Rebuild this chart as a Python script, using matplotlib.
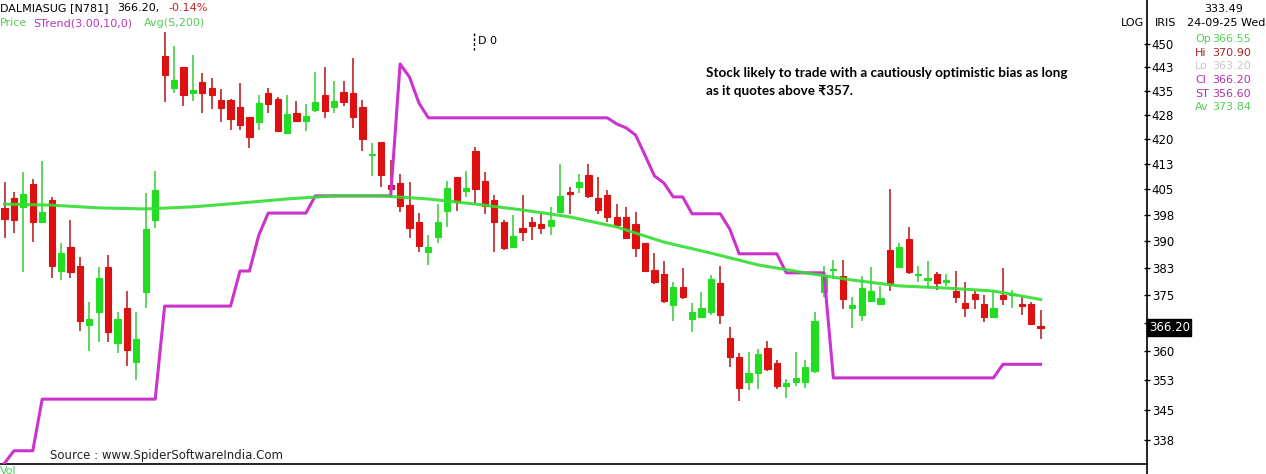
import matplotlib.pyplot as plt
from matplotlib.lines import Line2D
from matplotlib.ticker import NullLocator

# daily candles, oldest first (DALMIASUG)
opens = [399.6, 402.5, 399.9, 406.6, 395.3, 401.9, 381.7, 388.2, 383.1, 366.8,
         370.3, 382.6, 362.1, 371.6, 357.1, 375.7, 396.1, 446.1, 435.8, 442.6,
         434.3, 437.8, 435.8, 432.1, 432.1, 429.9, 426.8, 425.3, 434.3, 432.4,
         421.9, 428.1, 425.6, 429.0, 433.6, 429.9, 434.6, 434.3, 429.9, 415.2,
         419.2, 406.3, 406.9, 400.4, 395.5, 387.0, 391.2, 398.7, 408.6, 404.5,
         416.4, 407.5, 401.9, 395.5, 388.4, 393.6, 395.5, 394.9, 394.4, 398.4,
         404.2, 405.7, 409.3, 402.5, 403.3, 397.0, 397.0, 394.9, 389.5, 382.0,
         380.9, 372.2, 377.1, 368.4, 369.0, 370.5, 378.2, 363.4, 358.4, 352.0,
         354.3, 360.8, 356.9, 351.0, 352.0, 352.0, 354.8, 375.7, 381.9, 380.1,
         371.6, 369.5, 373.5, 372.7, 387.6, 382.6, 390.7, 380.4, 379.0, 380.7,
         378.7, 376.2, 372.9, 375.4, 372.7, 369.2, 375.1, 375.0, 372.7, 372.7,
         366.55]
highs = [407.2, 404.2, 410.1, 408.1, 413.4, 402.8, 389.5, 396.1, 385.6, 373.2,
         382.6, 386.2, 370.3, 376.2, 370.3, 403.9, 410.4, 453.9, 449.3, 442.6,
         446.4, 440.7, 439.1, 435.5, 432.4, 437.5, 426.8, 433.6, 435.8, 433.0,
         433.6, 431.8, 430.9, 441.0, 442.6, 438.1, 438.1, 445.4, 432.1, 418.9,
         419.2, 413.7, 409.5, 407.2, 398.1, 391.8, 400.7, 407.5, 408.6, 410.4,
         417.6, 410.1, 403.3, 396.0, 397.5, 403.3, 397.0, 398.1, 399.9, 412.5,
         405.7, 409.5, 412.5, 408.6, 404.8, 400.7, 399.9, 398.4, 389.5, 386.5,
         384.5, 378.5, 382.3, 372.9, 375.7, 380.4, 382.9, 366.3, 359.5, 359.8,
         360.5, 362.8, 357.6, 352.8, 359.8, 357.6, 370.5, 383.1, 384.8, 384.8,
         374.6, 380.1, 382.6, 377.6, 405.1, 389.5, 394.1, 383.1, 384.5, 381.2,
         380.9, 381.5, 378.5, 376.0, 374.9, 375.7, 382.3, 376.5, 374.6, 373.0,
         370.90]
lows = [391.0, 392.4, 381.2, 389.6, 395.0, 379.8, 379.0, 379.8, 365.3, 360.0,
        362.3, 362.3, 359.5, 356.1, 352.5, 371.4, 393.6, 431.5, 434.3, 430.2,
        431.8, 428.1, 429.3, 425.3, 422.8, 422.8, 417.3, 422.8, 428.1, 422.2,
        421.6, 425.3, 422.5, 428.4, 426.5, 428.1, 430.2, 423.4, 416.4, 409.0,
        405.7, 402.7, 398.4, 391.0, 386.8, 383.4, 389.5, 393.9, 398.7, 402.8,
        401.0, 397.8, 386.8, 387.5, 387.9, 390.1, 390.4, 392.1, 391.8, 398.2,
        397.8, 403.9, 402.5, 397.8, 395.3, 393.6, 390.7, 385.6, 381.2, 377.9,
        372.9, 367.9, 374.0, 365.0, 368.7, 369.5, 367.3, 355.8, 347.2, 350.0,
        350.2, 355.0, 350.2, 348.0, 351.0, 350.5, 354.3, 374.6, 379.3, 371.1,
        366.0, 367.9, 373.2, 372.4, 376.0, 382.3, 380.7, 378.7, 376.8, 376.5,
        377.6, 372.9, 369.2, 371.1, 367.6, 369.0, 372.2, 371.6, 369.7, 366.8,
        363.20]
closes = [396.4, 396.1, 403.6, 395.3, 398.4, 383.1, 386.5, 381.2, 367.9, 368.4,
          379.8, 365.0, 368.4, 360.3, 363.1, 393.3, 404.8, 440.0, 438.4, 433.6,
          435.2, 434.3, 433.6, 429.6, 426.2, 424.4, 420.7, 431.2, 430.9, 422.5,
          427.8, 425.6, 427.1, 431.5, 428.7, 431.8, 431.5, 426.8, 420.1, 415.5,
          409.3, 405.1, 400.1, 393.6, 388.7, 388.2, 395.5, 405.4, 401.3, 405.4,
          405.1, 400.1, 395.3, 387.9, 391.5, 392.7, 394.4, 393.6, 396.1, 403.1,
          403.6, 407.2, 403.1, 399.0, 397.0, 394.7, 391.0, 387.9, 381.7, 378.7,
          373.5, 377.1, 374.6, 370.3, 371.6, 379.3, 369.5, 358.4, 350.5, 354.3,
          359.2, 355.3, 351.0, 351.8, 353.0, 355.8, 368.1, 380.1, 382.1, 374.0,
          372.2, 376.8, 376.0, 374.3, 377.9, 388.4, 381.2, 380.9, 379.6, 378.2,
          379.0, 374.6, 371.4, 374.0, 369.2, 371.6, 374.0, 375.2, 371.9, 367.1,
          366.20]

# SuperTrend(3,10) value on every bar
supertrend = [331.9, 334.9, 334.9, 334.9, 347.7, 347.7, 347.7, 347.7, 347.7, 347.7,
              347.7, 347.7, 347.7, 347.7, 347.7, 347.7, 347.7, 372.0, 372.0, 372.0,
              372.0, 372.0, 372.0, 372.0, 372.0, 381.6, 381.6, 391.7, 398.0, 398.0,
              398.0, 398.0, 398.0, 403.0, 403.0, 403.0, 403.0, 403.0, 403.0, 403.0,
              403.0, 403.0, 443.5, 439.3, 431.1, 426.5, 426.5, 426.5, 426.5, 426.5,
              426.5, 426.5, 426.5, 426.5, 426.5, 426.5, 426.5, 426.5, 426.5, 426.5,
              426.5, 426.5, 426.5, 426.5, 426.5, 424.6, 423.4, 421.2, 415.1, 408.9,
              406.8, 402.7, 402.7, 397.8, 397.8, 397.8, 397.8, 393.4, 386.4, 386.4,
              386.4, 386.4, 386.4, 381.1, 381.1, 381.1, 381.1, 381.1, 353.1, 353.1,
              353.1, 353.1, 353.1, 353.1, 353.1, 353.1, 353.1, 353.1, 353.1, 353.1,
              353.1, 353.1, 353.1, 353.1, 353.1, 353.1, 356.6, 356.6, 356.6, 356.6,
              356.6]

# 200 day simple average, read every 5 bars
avg_idx = [0, 5, 10, 15, 20, 25, 30, 35, 40, 45, 50, 55,
           60, 65, 70, 75, 80, 85, 90, 95, 100, 105, 110]
avg_vals = [400.6, 400.3, 399.5, 399.2, 399.8, 400.9, 402.1, 403.0, 403.0, 402.1,
            400.6, 398.9, 396.9, 394.0, 389.7, 386.6, 383.3, 381.1, 379.1, 377.5,
            376.9, 376.1, 373.8]

tick_vals = [450, 442.5, 435, 427.5, 420, 412.5, 405, 397.5, 390, 382.5,
             375, 367.5, 360, 352.5, 345, 337.5]
tick_labels = ['450', '443', '435', '428', '420', '413', '405', '398', '390', '383',
               '375', '368', '360', '353', '345', '338']

info_keys = ['Op', 'Hi', 'Lo', 'Cl', 'ST', 'Av']
info_vals = ['366.55', '370.90', '363.20', '366.20', '356.60', '373.84']
info_cols = ['#55cc55', '#aa2222', '#c8c8c8', '#b030b0', '#b030b0', '#55cc55']

W, H = 1266, 474


def fx(px):
    return px / W


def fy(py):
    return 1 - py / H


UP = '#22dd22'
DOWN = '#dd1111'

fig = plt.figure(figsize=(W / 100, H / 100), dpi=100)
fig.patch.set_facecolor('white')
ax = fig.add_axes([0, fy(464), fx(1147), 464 / H])
ax.set_yscale('log')
ax.set_ylim(331.7, 464.6)
ax.set_xlim(-0.48, 121.3)

# candles
for i, (o, h, l, c) in enumerate(zip(opens, highs, lows, closes)):
    col = UP if c >= o else DOWN
    wick = '#33cc33' if c >= o else '#b01515'
    ax.vlines(i, l, h, color=wick, lw=1.1, zorder=2)
    ax.bar(i, abs(c - o), bottom=min(o, c), width=0.66, color=col,
           edgecolor=col, lw=0.8, zorder=3)

ax.plot(range(len(supertrend)), supertrend, color='#cc33cc', lw=2.2, zorder=4)
ax.plot(avg_idx, avg_vals, color='#33dd33', lw=2.2, alpha=0.9, zorder=5)

for side in ['top', 'left']:
    ax.spines[side].set_visible(False)
for side in ['right', 'bottom']:
    ax.spines[side].set_color('black')
    ax.spines[side].set_linewidth(1.2)

ax.set_xticks([])
ax.yaxis.tick_right()
ax.set_yticks(tick_vals)
ax.set_yticklabels(tick_labels)
ax.yaxis.set_minor_locator(NullLocator())
ax.tick_params(axis='y', direction='inout', length=5, width=1, labelsize=8.5,
               pad=1, colors='black')

# last price tag (hides the 368 label, as on the terminal)
ax.text(1.0015, closes[-1], '366.20', transform=ax.get_yaxis_transform(),
        color='white', fontsize=8.5, va='center', ha='left', zorder=10,
        bbox=dict(boxstyle='square,pad=0.15', fc='black', ec='black'))

# axis line continues to the bottom edge
fig.add_artist(Line2D([fx(1147), fx(1147)], [0, fy(464)], color='black', lw=1.2))

# header
fs = 8
fig.text(fx(0), fy(8), 'DALMIASUG [N781]', fontsize=fs, color='black', va='center')
fig.text(fx(117), fy(8), '366.20,', fontsize=fs, color='black', va='center')
fig.text(fx(168), fy(8), '-0.14%', fontsize=fs, color='#cc2222', va='center')
fig.text(fx(0), fy(23), 'Price', fontsize=fs, color='#55cc55', va='center')
fig.text(fx(33), fy(23), 'STrend(3.00,10,0)', fontsize=fs, color='#bb33bb', va='center')
fig.text(fx(144), fy(23), 'Avg(S,200)', fontsize=fs, color='#55cc55', va='center')

# D 0 marker
fig.add_artist(Line2D([fx(474), fx(474)], [fy(33), fy(50)], color='black',
                      lw=1, ls=(0, (2, 1.5))))
fig.text(fx(478), fy(41), 'D 0', fontsize=8, color='black', va='center')

# right panel
fig.text(fx(1121), fy(23), 'LOG', fontsize=fs, color='black', va='center')
fig.text(fx(1155), fy(23), 'IRIS', fontsize=fs, color='black', va='center')
fig.text(fx(1204), fy(9), '333.49', fontsize=fs, color='black', va='center')
fig.text(fx(1187), fy(23), '24-09-25 Wed', fontsize=fs, color='black', va='center')
for k, (key, val, col) in enumerate(zip(info_keys, info_vals, info_cols)):
    y = 39 + 13.7 * k
    fig.text(fx(1195), fy(y), key, fontsize=fs, color=col, va='center')
    fig.text(fx(1212), fy(y), val, fontsize=fs, color=col, va='center')

# comment
fig.text(fx(706), fy(73), 'Stock likely to trade with a cautiously optimistic bias as long',
         fontsize=9.75, fontweight='bold', family=['Lato', 'DejaVu Sans'],
         color='black', va='center')
fig.text(fx(706), fy(91), 'as it quotes above \u20b9357.',
         fontsize=9.75, fontweight='bold', family=['Lato', 'DejaVu Sans'],
         color='black', va='center')

fig.text(fx(50), fy(455), 'Source : www.SpiderSoftwareIndia.Com', fontsize=8.5,
         color='#222222', va='center')
fig.text(fx(0), fy(466), 'Vol', fontsize=8, color='#55cc55', va='top')

fig.savefig('out.png', dpi=100)
